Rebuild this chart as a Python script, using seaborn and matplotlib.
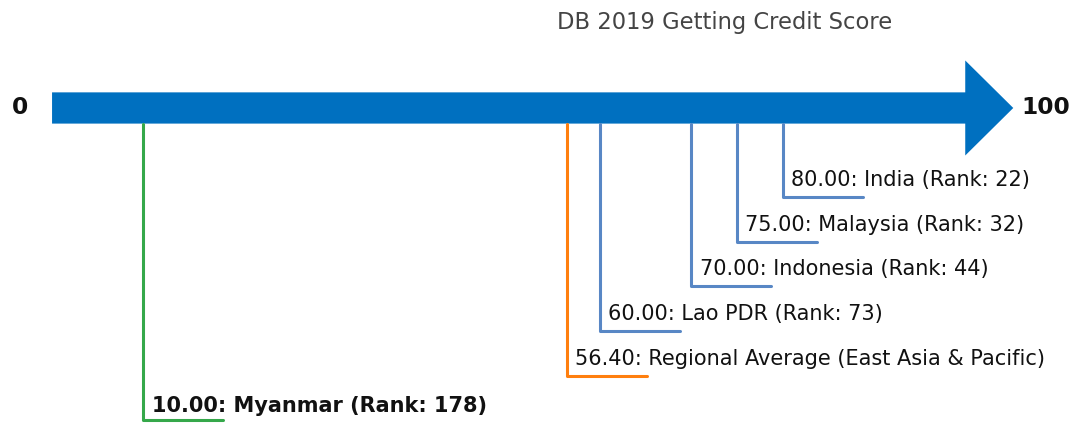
import matplotlib
matplotlib.use("Agg")
import matplotlib.pyplot as plt
from matplotlib.patches import FancyArrow
import seaborn as sns
import pandas as pd

# ---- data ----
names = ["India", "Malaysia", "Indonesia", "Lao PDR",
         "Regional Average (East Asia & Pacific)", "Myanmar"]
scores = [80.00, 75.00, 70.00, 60.00, 56.40, 10.00]
ranks = [22, 32, 44, 73, None, 178]
kinds = ["peer", "peer", "peer", "peer", "average", "focus"]
title = "DB 2019 Getting Credit Score"
axis_min, axis_max = 0, 100

sns.set_theme(style="white")
plt.rcParams["font.family"] = ["DejaVu Sans"]

colors = {"peer": "#5887c5", "average": "#ff7f0e", "focus": "#35a84a"}

fig = plt.figure(figsize=(10.73, 4.23), dpi=100)
ax = fig.add_axes([0, 0, 1, 1])

# arrow (axis)
arrow_y = -1
ax.add_patch(FancyArrow(axis_min, arrow_y, (axis_max - axis_min) + 5.26, 0,
                        width=0.70, head_width=2.13, head_length=5.26,
                        length_includes_head=True, color="#0070c0", lw=0))
ax.text(-3.5, arrow_y, str(axis_min), ha="center", va="center",
        fontsize=16.8, fontweight="bold", color="#111111")
ax.text(106.2, arrow_y, str(axis_max), ha="left", va="center",
        fontsize=16.8, fontweight="bold", color="#111111")
ax.text(73.6, -2.91, title, ha="center", va="center", fontsize=16.3,
        color="#444444")

# leaders
seg_len = 8.76
rows = []
for i, (n, s, r, k) in enumerate(zip(names, scores, ranks, kinds)):
    level = i + 1
    for j, (x, y) in enumerate([(s, arrow_y + 0.36), (s, level), (s + seg_len, level)]):
        rows.append({"name": n, "x": x, "y": y, "order": j, "kind": k})
df = pd.DataFrame(rows)

for n, k in zip(names, kinds):
    sub = df[df["name"] == n]
    sns.lineplot(data=sub, x="x", y="y", sort=False, estimator=None,
                 color=colors[k], lw=2.2, ax=ax)

for i, (n, s, r, k) in enumerate(zip(names, scores, ranks, kinds)):
    level = i + 1
    label = f"{s:.2f}: {n}" + (f" (Rank: {r})" if r is not None else "")
    bold = k == "focus"
    ax.text(s + 0.9, level - (0.18 if bold else 0.25), label,
            ha="left", va="baseline", fontsize=15,
            fontweight="bold" if bold else "normal", color="#111111")

ax.set_xlim(-5.70, 111.8)
ax.set_ylim(6.06, -3.42)
ax.axis("off")
fig.savefig("out.png", dpi=100)
